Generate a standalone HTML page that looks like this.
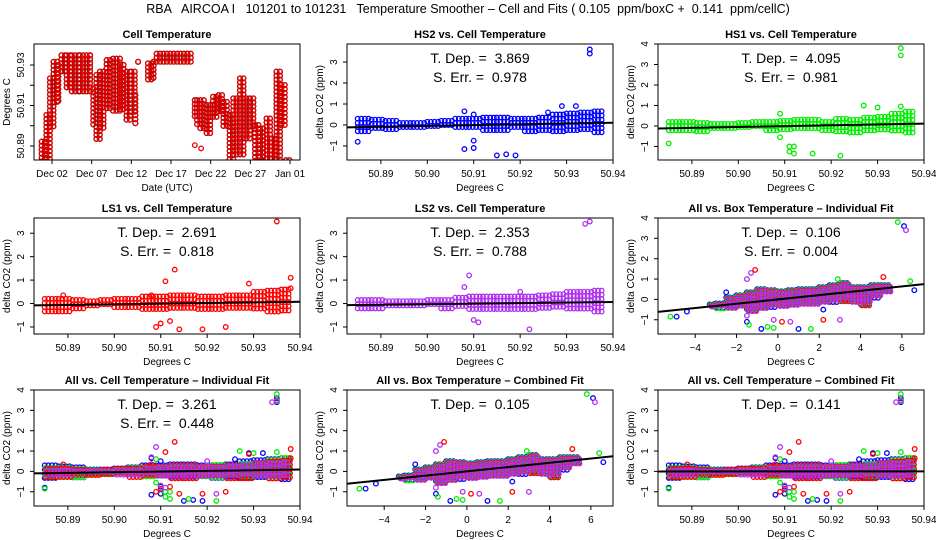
<!DOCTYPE html>
<html><head><meta charset="utf-8"><style>
html,body{margin:0;padding:0;background:#fff;}
svg{display:block;font-family:"Liberation Sans",sans-serif;}
text{white-space:pre;}
</style></head><body>
<svg id="chart" width="936" height="540" viewBox="0 0 936 540" xmlns="http://www.w3.org/2000/svg">
<rect width="936" height="540" fill="#fff"/>
<text x="468" y="13" text-anchor="middle" font-size="12.5" xml:space="preserve">RBA   AIRCOA I   101201 to 101231   Temperature Smoother – Cell and Fits ( 0.105  ppm/boxC +  0.141  ppm/cellC)</text>
<g id="plots"></g>
</svg>
<script>
// ---- Cell temperature time series (day of Dec, low, high) ----
const tsStart = [0.7,1.3,1.75,2.2,2.8,3.2,3.85,4.5,5.5,6.8,7.2,7.6,8.05,8.9,9.7,10.6,11.4,12.0,12.5,12.85,14.1,14.8,15.2,20.0,20.3,20.7,21.5,22.3,23.0,23.6,24.4,24.85,25.7,26.5,26.95,27.6,28.2,29.05,29.7,30.3,30.9,31.5];
const tsEnd   = [1.3,1.75,2.2,2.8,3.2,3.85,4.5,5.5,6.8,7.2,7.6,8.05,8.9,9.7,10.6,11.4,12.0,12.5,12.85,13.0,14.8,15.2,19.9,20.3,20.7,21.5,22.3,23.0,23.6,24.4,24.85,25.7,26.5,26.95,27.6,28.2,29.05,29.7,30.3,30.9,31.5,32.2];
const tsLo = [50.8814,50.8822,50.8987,50.9118,50.9110,50.9267,50.9185,50.9160,50.9168,50.9218,50.9003,50.8921,50.8987,50.9086,50.9069,50.9069,50.9028,50.9053,50.8995,50.9300,50.9218,50.9234,50.9300,50.9036,50.9003,50.8970,50.8962,50.9036,50.9053,50.8987,50.8822,50.8855,50.8839,50.8937,50.8987,50.8814,50.8814,50.8822,50.8814,50.8822,50.8995,50.8814];
const tsHi = [50.8921,50.9053,50.9234,50.9316,50.9300,50.9348,50.9348,50.9348,50.9348,50.9348,50.9185,50.9251,50.9267,50.9324,50.9331,50.9300,50.9267,50.9267,50.9151,50.9316,50.9308,50.9316,50.9356,50.9126,50.9126,50.9126,50.9102,50.9143,50.9151,50.9118,50.9053,50.9135,50.9234,50.9135,50.9135,50.9003,50.8987,50.9036,50.8937,50.9267,50.9201,50.8830];
const tsOutDay = [20.0,20.0,20.8,20.8];
const tsOutVal = [50.8904,50.8814,50.8888,50.8814];
const dayTicks = [2,7,12,17,22,27,32];
const dayLabels = ["Dec 02","Dec 07","Dec 12","Dec 17","Dec 22","Dec 27","Jan 01"];
const tempTicksY = [50.89,50.90,50.91,50.92,50.93];

// ---- Cell temperature bins and residual bands ----
const cellBins = [50.885,50.888,50.891,50.894,50.897,50.900,50.903,50.906,50.909,50.912,50.915,50.918,50.921,50.924,50.927,50.930,50.933,50.936,50.938];
const hs2Lo = [-0.4,-0.3,-0.25,-0.2,-0.15,-0.2,-0.2,-0.25,-0.3,-0.3,-0.35,-0.3,-0.35,-0.4,-0.4,-0.4,-0.4,-0.45,-0.5];
const hs2Hi = [0.3,0.25,0.2,0.1,0.1,0.15,0.2,0.3,0.3,0.35,0.35,0.3,0.3,0.35,0.5,0.55,0.6,0.65,0.6];
const hs1Lo = [-0.35,-0.3,-0.3,-0.25,-0.2,-0.25,-0.2,-0.25,-0.3,-0.3,-0.3,-0.35,-0.4,-0.35,-0.35,-0.3,-0.35,-0.35,-0.35];
const hs1Hi = [0.2,0.2,0.15,0.1,0.1,0.15,0.2,0.2,0.25,0.3,0.3,0.2,0.35,0.3,0.4,0.45,0.6,0.7,0.65];
const ls1Lo = [-0.35,-0.35,-0.3,-0.25,-0.2,-0.25,-0.3,-0.3,-0.35,-0.35,-0.35,-0.3,-0.35,-0.35,-0.35,-0.35,-0.4,-0.45,-0.5];
const ls1Hi = [0.2,0.2,0.15,0.1,0.15,0.2,0.2,0.3,0.3,0.35,0.35,0.3,0.3,0.35,0.35,0.5,0.55,0.6,0.55];
const ls2Lo = [-0.25,-0.25,-0.2,-0.2,-0.2,-0.2,-0.25,-0.25,-0.3,-0.3,-0.3,-0.35,-0.4,-0.35,-0.3,-0.3,-0.3,-0.35,-0.35];
const ls2Hi = [0.15,0.15,0.1,0.1,0.1,0.15,0.15,0.25,0.3,0.3,0.3,0.3,0.3,0.35,0.4,0.5,0.5,0.55,0.55];
const hs2OutX = [50.885,50.908,50.908,50.910,50.910,50.910,50.915,50.917,50.919,50.929,50.932,50.935,50.935,50.926];
const hs2OutY = [-0.8,0.65,-1.15,-1.1,-0.75,0.5,-1.45,-1.4,-1.45,0.9,0.9,3.6,3.4,0.6];
const hs1OutX = [50.885,50.909,50.909,50.911,50.911,50.912,50.912,50.916,50.922,50.927,50.930,50.935,50.935,50.935];
const hs1OutY = [-0.85,0.6,-0.55,-1.0,-1.25,-1.35,-1.0,-1.35,-1.45,1.0,0.9,3.8,3.45,0.95];
const ls1OutX = [50.889,50.908,50.909,50.910,50.911,50.912,50.913,50.914,50.919,50.924,50.929,50.935,50.938,50.938];
const ls1OutY = [0.35,0.35,-1.0,-0.85,0.95,-0.75,1.45,-1.1,-1.1,-1.0,0.85,3.5,1.1,0.65];
const ls2OutX = [50.908,50.909,50.910,50.911,50.922,50.935,50.920,50.934];
const ls2OutY = [0.7,1.2,-0.7,-0.8,-1.1,3.5,0.5,3.4];

// ---- Box temperature bins and bands ----
const boxBins = [-3.3,-3,-2.5,-2,-1.5,-1,-0.5,0,0.5,1,1.5,2,2.5,3,3.5,4,4.5,5,5.5];
const boxLo = [-0.45,-0.45,-0.45,-0.4,-0.6,-0.45,-0.4,-0.35,-0.35,-0.3,-0.25,-0.2,-0.15,-0.1,-0.2,-0.3,0.05,0.3,0.35];
const boxHi = [-0.25,-0.2,0.1,0.2,0.35,0.5,0.45,0.4,0.45,0.5,0.5,0.6,0.7,0.8,0.6,0.6,0.7,0.7,0.55];
const boxOutX = [-5.2,-4.9,-4.4,-2.5,-1.5,-1.5,-1.3,-1.1,-1.5,-1.4,-0.8,-0.5,-0.2,-0.2,0.2,0.6,1.0,1.6,2.2,2.2,2.9,3.0,5.1,6.4,5.8,6.1,6.2,6.6];
const boxOutY = [-0.85,-0.85,-0.6,0.35,1.0,-1.1,1.3,1.45,-0.8,-1.25,-1.45,-1.35,-1.0,-1.4,-1.1,-1.1,-1.45,-1.45,-1.0,-0.5,1.0,-1.0,1.1,0.9,3.8,3.6,3.4,0.45];
const boxOutC = [1,0,0,0,3,0,3,2,3,1,0,1,3,1,2,3,0,1,2,0,1,3,2,1,1,0,3,0];

const cellXTicks = [50.89,50.90,50.91,50.92,50.93,50.94];
const cellXLabels = ["50.89","50.90","50.91","50.92","50.93","50.94"];
const boxXTicks = [-4,-2,0,2,4,6];
const fitSlopes = [3.869,4.095,2.691,2.353,0.106,3.261,0.105,0.141];
const fitErrs = [0.978,0.981,0.818,0.788,0.004,0.448];

const COLORS = ["#0000ff","#00ee00","#ff0000","#b030f0"];
const NS = "http://www.w3.org/2000/svg";
const root = document.getElementById("plots");
function el(tag, attrs, parent){const e=document.createElementNS(NS,tag);for(const k in attrs)e.setAttribute(k,attrs[k]);(parent||root).appendChild(e);return e;}
function scale(d0,d1,r0,r1){return v=>r0+(v-d0)/(d1-d0)*(r1-r0);}
const colL=[34,347,658], rowT=[44,218,390], W=266, H=116;

function frame(g,L,T,title){
  const f=el("rect",{x:L,y:T,width:W,height:H,fill:"none",stroke:"#000","stroke-width":1},g);
  
  
  const t=el("text",{x:L+W/2,y:T-6,"text-anchor":"middle","font-size":"11","font-weight":"bold"},g);
  t.textContent=title;
  
  
}
function xAxis(g,L,T,sx,ticks,labels,label){
  const y=T+H;
  el("line",{x1:sx(ticks[0]),x2:sx(ticks[ticks.length-1]),y1:y,y2:y,stroke:"#000"},g);
  ticks.forEach((v,i)=>{
    el("line",{x1:sx(v),x2:sx(v),y1:y,y2:y+4,stroke:"#000"},g);
    const t=el("text",{x:sx(v),y:y+17,"text-anchor":"middle","font-size":"10"},g);
    t.textContent=labels[i];
    
    
  });
  const a=el("text",{x:L+W/2,y:y+31,"text-anchor":"middle","font-size":"10"},g);
  a.textContent=label;
  
  
}
function yAxis(g,L,T,sy,ticks,labels,label){
  el("line",{x1:L,x2:L,y1:sy(ticks[0]),y2:sy(ticks[ticks.length-1]),stroke:"#000"},g);
  ticks.forEach((v,i)=>{
    el("line",{x1:L-4,x2:L,y1:sy(v),y2:sy(v),stroke:"#000"},g);
    if(labels[i]!==""){
      const t=el("text",{x:L-10,y:sy(v),"text-anchor":"middle","font-size":"10",transform:`rotate(-90 ${L-10} ${sy(v)})`},g);
      t.textContent=labels[i];
      
      
    }
  });
  const a=el("text",{x:L-24,y:T+H/2,"text-anchor":"middle","font-size":"10",transform:`rotate(-90 ${L-24} ${T+H/2})`},g);
  a.textContent=label;
  
  
}
function pt(g,x,y,c){
  const p=el("circle",{cx:x.toFixed(1),cy:y.toFixed(1),r:2.3,fill:"none",stroke:c,"stroke-width":1.3},g);
  
  
}
function band(g,sx,sy,bins,lo,hi,c,off){
  for(let i=0;i<bins.length-1;i++){
    const x0=sx(bins[i]), x1=sx(bins[i+1]);
    for(let x=x0+off;x<x1;x+=3.6){
      const ya=sy(hi[i]), yb=sy(lo[i]);
      for(let y=ya+off;y<=yb;y+=4.2) pt(g,x,y,c);
    }
  }
}
function annot(g,L,T,slope,err){
  const t=el("text",{x:L+W/2,y:T+19,"text-anchor":"middle","font-size":"14"},g);
  t.textContent="T. Dep. =  "+slope.toFixed(3);
  
  
  if(err!==undefined){
    const e=el("text",{x:L+W/2,y:T+38,"text-anchor":"middle","font-size":"14"},g);
    e.textContent="S. Err. =  "+err.toFixed(3);
    
    
  }
}
function fitLine(g,sx,sy,x0,x1,xc,slope,yc){
  const l=el("line",{x1:sx(x0),x2:sx(x1),y1:sy(yc+slope*(x0-xc)),y2:sy(yc+slope*(x1-xc)),stroke:"#000","stroke-width":2},g);
  
  
}
function clip(g,L,T){
  const id="c"+L+"_"+T;
  const cp=el("clipPath",{id:id},g);el("rect",{x:L,y:T,width:W,height:H},cp);
  return el("g",{"clip-path":`url(#${id})`},g);
}

// Panel 1: time series
(function(){
  const L=colL[0],T=rowT[0];
  const g=el("g",{});
  
  
  const sx=scale(2,32,52,290), sy=scale(50.93,50.89,65,146);
  const inner=clip(g,L,T);
  for(let i=0;i<tsStart.length;i++){
    for(let x=sx(tsStart[i]);x<sx(tsEnd[i]);x+=3.4){
      for(let y=sy(tsHi[i]);y<=sy(tsLo[i]);y+=4){
        el("circle",{cx:x.toFixed(1),cy:y.toFixed(1),r:2.7,fill:"none",stroke:"#000","stroke-width":0.7},inner);
        pt(inner,x,y,"#ee0000");
      }
    }
  }
  tsOutDay.forEach((d,i)=>pt(inner,sx(d),sy(tsOutVal[i]),"#ee0000"));
  frame(g,L,T,"Cell Temperature");
  xAxis(g,L,T,sx,dayTicks,dayLabels,"Date (UTC)");
  yAxis(g,L,T,sy,tempTicksY,["50.89","","50.91","","50.93"],"Degrees C");
})();

// Cell panels
const allCell=[[hs2Lo,hs2Hi,hs2OutX,hs2OutY,0],[hs1Lo,hs1Hi,hs1OutX,hs1OutY,1],[ls1Lo,ls1Hi,ls1OutX,ls1OutY,2],[ls2Lo,ls2Hi,ls2OutX,ls2OutY,3]];
const cellPanels=[
  {c:1,r:0,title:"HS2 vs. Cell Temperature",ymax:3.86,ymin:-1.67,sets:[allCell[0]],s:0,e:0,ls:0,name:"hs2-panel"},
  {c:2,r:0,title:"HS1 vs. Cell Temperature",ymax:4.0,ymin:-1.66,sets:[allCell[1]],s:1,e:1,ls:1,name:"hs1-panel"},
  {c:0,r:1,title:"LS1 vs. Cell Temperature",ymax:3.65,ymin:-1.3,sets:[allCell[2]],s:2,e:2,ls:2,name:"ls1-panel"},
  {c:1,r:1,title:"LS2 vs. Cell Temperature",ymax:3.65,ymin:-1.3,sets:[allCell[3]],s:3,e:3,ls:3,name:"ls2-panel"},
  {c:0,r:2,title:"All vs. Cell Temperature – Individual Fit",ymax:4.0,ymin:-1.7,sets:allCell,s:5,e:5,ls:5,name:"all-cell-individual-panel"},
  {c:2,r:2,title:"All vs. Cell Temperature – Combined Fit",ymax:4.0,ymin:-1.7,sets:allCell,s:7,e:undefined,ls:7,name:"all-cell-combined-panel"}
];
cellPanels.forEach(p=>{
  const L=colL[p.c],T=rowT[p.r];
  const g=el("g",{});
  
  
  const sx=scale(50.8827,50.94,L,L+W), sy=scale(p.ymax,p.ymin,T,T+H);
  const inner=clip(g,L,T);
  p.sets.forEach((s,k)=>{
    band(inner,sx,sy,cellBins,s[0],s[1],COLORS[s[4]],k*0.7);
    s[2].forEach((x,i)=>pt(inner,sx(x),sy(s[3][i]),COLORS[s[4]]));
  });
  fitLine(inner,sx,sy,50.8827,50.94,50.912,fitSlopes[p.ls],0);
  annot(g,L,T,fitSlopes[p.s],p.e===undefined?undefined:fitErrs[p.e]);
  frame(g,L,T,p.title);
  xAxis(g,L,T,sx,cellXTicks,cellXLabels,"Degrees C");
  const yt=[-1,0,1,2,3,4].filter(v=>v<=p.ymax+0.01);
  yAxis(g,L,T,sy,yt,yt.map(v=>v<0?"\u2212"+(-v):String(v)),"delta CO2 (ppm)");
});

// Box panels
const boxPanels=[
  {c:2,r:1,title:"All vs. Box Temperature – Individual Fit",s:4,e:4,name:"all-box-individual-panel"},
  {c:1,r:2,title:"All vs. Box Temperature – Combined Fit",s:6,e:undefined,name:"all-box-combined-panel"}
];
boxPanels.forEach(p=>{
  const L=colL[p.c],T=rowT[p.r];
  const g=el("g",{});
  
  
  const sx=scale(-5.8,7.07,L,L+W), sy=scale(4.0,-1.7,T,T+H);
  const inner=clip(g,L,T);
  [0,1,2,3].forEach(k=>band(inner,sx,sy,boxBins,boxLo,boxHi,COLORS[k],k*0.7));
  boxOutX.forEach((x,i)=>pt(inner,sx(x),sy(boxOutY[i]),COLORS[boxOutC[i]]));
  fitLine(inner,sx,sy,-5.8,7.07,0,fitSlopes[p.s],0);
  annot(g,L,T,fitSlopes[p.s],p.e===undefined?undefined:fitErrs[p.e]);
  frame(g,L,T,p.title);
  xAxis(g,L,T,sx,boxXTicks,boxXTicks.map(v=>v<0?"\u2212"+(-v):String(v)),"Degrees C");
  yAxis(g,L,T,sy,[-1,0,1,2,3,4],["\u22121","0","1","2","3","4"],"delta CO2 (ppm)");
});
</script>
</body></html>
